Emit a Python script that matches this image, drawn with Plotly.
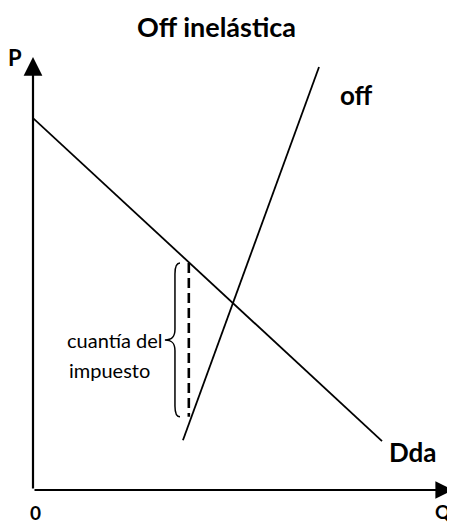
import plotly.graph_objects as go

# Data (economic units: Q on x, P on y)
demand_q = [0.0, 8.31]
demand_p = [8.59, 1.13]
supply_q = [3.57, 6.81]
supply_p = [1.15, 9.77]
tax_q = [3.71, 3.71]
tax_p = [5.24, 1.69]
axis_max_q = 10
axis_max_p = 10

fig = go.Figure()
fig.add_trace(go.Scatter(x=demand_q, y=demand_p, mode="lines",
                         line=dict(color="black", width=1.8), hoverinfo="skip"))
fig.add_trace(go.Scatter(x=supply_q, y=supply_p, mode="lines",
                         line=dict(color="black", width=1.8), hoverinfo="skip"))
fig.add_trace(go.Scatter(x=tax_q, y=tax_p, mode="lines",
                         line=dict(color="black", width=2.6, dash="10px,5px"), hoverinfo="skip"))

# Brace
qt, pt, pb = tax_q[0], tax_p[0], tax_p[1]
pm = (pt + pb) / 2
xe, xv, xt = qt - 0.21, qt - 0.33, qt - 0.57
path = (f"M {xe},{pt} C {xv+0.04},{pt} {xv},{pt-0.08} {xv},{pt-0.25} "
        f"L {xv},{pm+0.25} C {xv},{pm+0.06} {xv-0.08},{pm} {xt},{pm} "
        f"C {xv-0.08},{pm} {xv},{pm-0.06} {xv},{pm-0.25} "
        f"L {xv},{pb+0.25} C {xv},{pb+0.08} {xv+0.04},{pb} {xe},{pb}")
fig.add_shape(type="path", path=path, xref="x", yref="y",
              line=dict(color="black", width=1.5))


def px(X):
    return (X - 33) / 420


def py(Y):
    return (490 - Y) / 433


ann = []
# Axes with arrow heads
ann.append(dict(x=axis_max_q, y=0, ax=0, ay=0, xref="x", yref="y", axref="x", ayref="y",
                showarrow=True, arrowhead=2, arrowsize=1.6, arrowwidth=2.2, arrowcolor="black", text=""))
ann.append(dict(x=0, y=axis_max_p, ax=0, ay=0, xref="x", yref="y", axref="x", ayref="y",
                showarrow=True, arrowhead=2, arrowsize=1.7, arrowwidth=2.2, arrowcolor="black", text=""))


def label(X, Y, text, size, bold=True, xanchor="center", yanchor="middle"):
    ann.append(dict(x=px(X), y=py(Y), xref="paper", yref="paper",
                    text=f"<b>{text}</b>" if bold else text, showarrow=False,
                    xanchor=xanchor, yanchor=yanchor, borderpad=0,
                    font=dict(family="Lato", size=size, color="black")))


label(216, 9, "Off inelástica", 27, yanchor="top")
label(356, 95, "off", 26)
label(413, 452, "Dda", 26)
label(15, 58, "P", 22)
label(35, 525, "0", 19, yanchor="bottom")
label(443, 524, "Q", 19, yanchor="bottom")
label(164, 340, "cuantía del", 20, bold=False, xanchor="right")
label(68, 370, "impuesto", 20, bold=False, xanchor="left")

fig.update_layout(
    width=447, height=517,
    margin=dict(l=25, r=2, t=49, b=35, autoexpand=False),
    paper_bgcolor="white", plot_bgcolor="white",
    showlegend=False,
    xaxis=dict(range=[0, axis_max_q], visible=False, fixedrange=True),
    yaxis=dict(range=[0, axis_max_p], visible=False, fixedrange=True),
    annotations=ann,
)
fig.write_html("out.html")
